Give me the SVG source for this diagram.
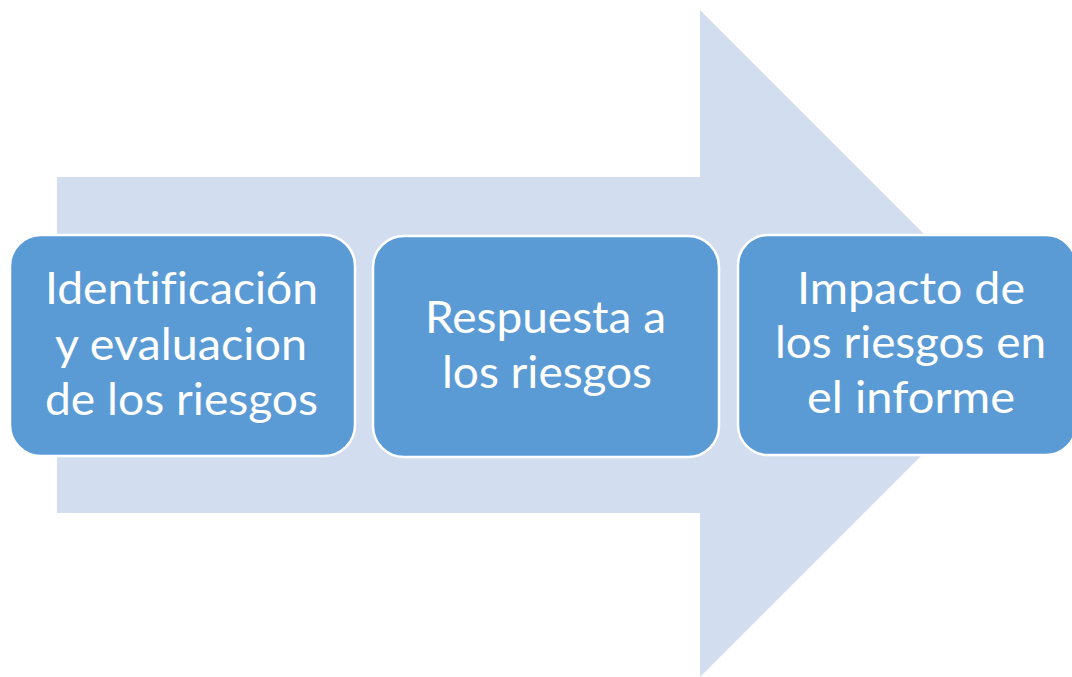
<svg xmlns="http://www.w3.org/2000/svg" width="1072" height="677" viewBox="0 0 1072 677">
<style>
.box{fill:#5B9BD5;stroke:#FFFFFF;stroke-width:2.5}
.lbl{font-family:Lato,"Open Sans",sans-serif;font-size:45px;fill:#FFFFFF;text-anchor:middle;font-variant-ligatures:none;font-feature-settings:"liga" 0}
</style>
<rect width="1072" height="677" fill="#FFFFFF"/>
<g id="connectors">
<polygon points="57,177 700,177 700,10 1033.5,343.5 700,677 700,513 57,513" fill="#D2DEEF"/>
</g>
<g id="node1">
<rect class="box" x="10" y="235" width="345" height="221" rx="31"/>
<text class="lbl" x="181.5" y="304" textLength="273" lengthAdjust="spacingAndGlyphs">Identificación</text>
<text class="lbl" x="181" y="360" textLength="252" lengthAdjust="spacingAndGlyphs">y evaluacion</text>
<text class="lbl" x="181.5" y="415" textLength="273" lengthAdjust="spacingAndGlyphs">de los riesgos</text>
</g>
<g id="node2">
<rect class="box" x="373" y="236" width="346" height="221" rx="31"/>
<text class="lbl" x="545.5" y="333" textLength="241" lengthAdjust="spacingAndGlyphs">Respuesta a</text>
<text class="lbl" x="547" y="388" textLength="210" lengthAdjust="spacingAndGlyphs">los riesgos</text>
</g>
<g id="node3">
<rect class="box" x="738" y="235" width="338" height="220" rx="30"/>
<text class="lbl" x="911" y="304" textLength="228" lengthAdjust="spacingAndGlyphs">Impacto de</text>
<text class="lbl" x="910.5" y="358" textLength="271" lengthAdjust="spacingAndGlyphs">los riesgos en</text>
<text class="lbl" x="911" y="413" textLength="208" lengthAdjust="spacingAndGlyphs">el informe</text>
</g>
</svg>
